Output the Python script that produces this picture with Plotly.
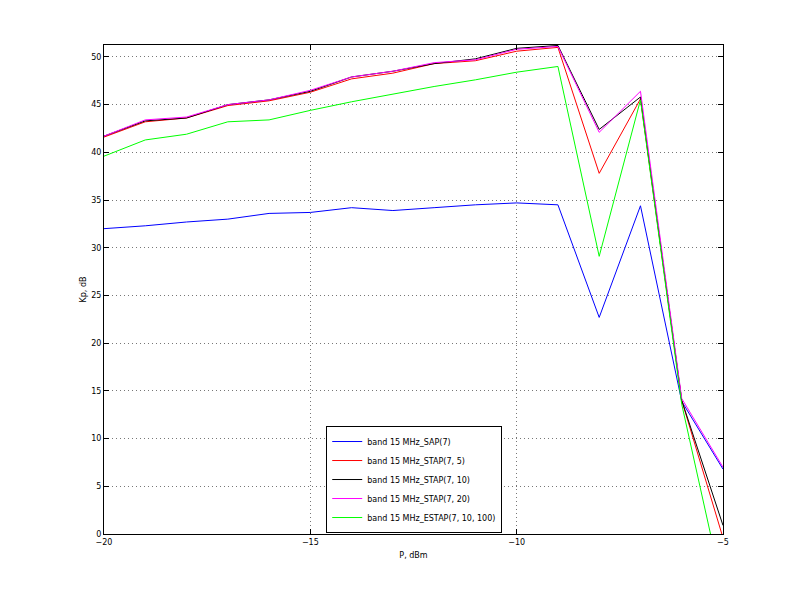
import plotly.graph_objects as go

x_vals = [-20, -19, -18, -17, -16, -15, -14, -13, -12, -11, -10, -9, -8, -7, -6, -5]

sap_7 = [32.0, 32.3, 32.7, 33.0, 33.6, 33.7, 34.2, 33.9, 34.2, 34.5, 34.7, 34.5, 22.7, 34.4, 13.9, 6.8]
stap_7_5 = [41.6, 43.2, 43.6, 44.9, 45.4, 46.3, 47.7, 48.3, 49.3, 49.6, 50.6, 51.0, 37.8, 45.6, 14.0, -0.4]
stap_7_10 = [41.7, 43.3, 43.6, 45.0, 45.5, 46.4, 47.9, 48.5, 49.3, 49.8, 50.9, 51.2, 42.4, 45.8, 14.0, 0.9]
stap_7_20 = [41.7, 43.4, 43.7, 45.0, 45.5, 46.5, 47.9, 48.5, 49.4, 49.7, 50.8, 51.1, 42.1, 46.4, 14.2, 7.0]
estap_7_10_100 = [39.6, 41.3, 41.9, 43.2, 43.4, 44.4, 45.3, 46.1, 46.9, 47.6, 48.4, 49.0, 29.1, 45.5, 13.6, -5.9]

names = [
    "band 15 MHz_SAP(7)",
    "band 15 MHz_STAP(7, 5)",
    "band 15 MHz_STAP(7, 10)",
    "band 15 MHz_STAP(7, 20)",
    "band 15 MHz_ESTAP(7, 10, 100)",
]
series = [sap_7, stap_7_5, stap_7_10, stap_7_20, estap_7_10_100]
colors = ["#0000ff", "#ff0000", "#000000", "#ff00ff", "#00ff00"]

x_ticks = [-20, -15, -10, -5]
y_ticks = [0, 5, 10, 15, 20, 25, 30, 35, 40, 45, 50]

fig = go.Figure()
for n, s, c in zip(names, series, colors):
    fig.add_trace(go.Scatter(x=x_vals, y=s, mode="lines", name=n,
                             line=dict(color=c, width=1)))

axis_common = dict(
    showline=True, linecolor="#000000", linewidth=1, mirror="allticks",
    ticks="inside", ticklen=5, tickcolor="#000000",
    showgrid=True, gridcolor="#777777", griddash="1px,3px", gridwidth=1,
    zeroline=False, tickfont=dict(family="DejaVu Sans", size=8, color="#000000"),
)

# page body has an 8px margin, so the figure is offset by 8px
fig.update_layout(
    width=783, height=584,
    paper_bgcolor="#ffffff", plot_bgcolor="#ffffff",
    margin=dict(l=96, r=68, t=37, b=58),
    font=dict(family="DejaVu Sans", size=8, color="#000000"),
    xaxis=dict(range=[-20, -5], tickvals=x_ticks,
               title=dict(text="P, dBm", standoff=6, font=dict(size=8)), **axis_common),
    yaxis=dict(range=[0, 51.25], tickvals=y_ticks,
               title=dict(text="Kp, dB", standoff=3, font=dict(size=8)), **axis_common),
    legend=dict(x=0.359, y=0.002, xanchor="left", yanchor="bottom",
                bgcolor="#ffffff", bordercolor="#000000", borderwidth=1,
                font=dict(family="DejaVu Sans", size=8), tracegroupgap=0,
                itemwidth=30),
    showlegend=True,
)

fig.write_html("out.html")
